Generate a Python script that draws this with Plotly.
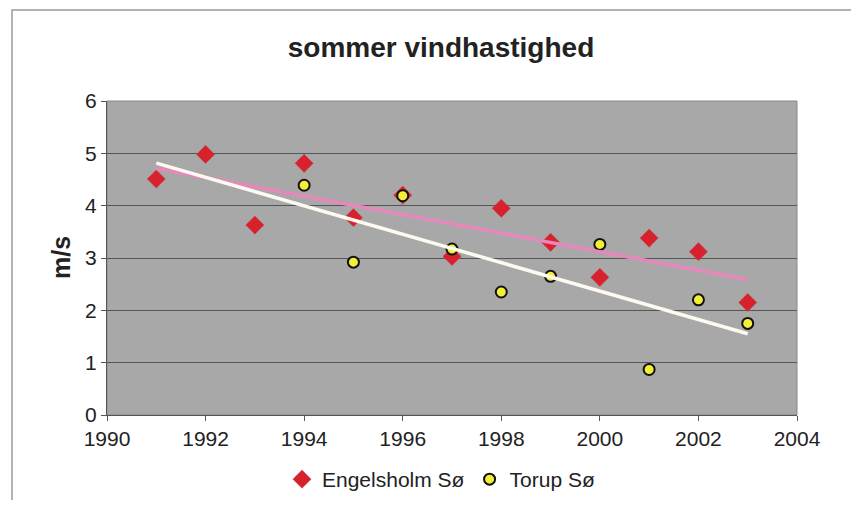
import numpy as np
import plotly.graph_objects as go

# data
years_eng = [1991, 1992, 1993, 1994, 1995, 1996, 1997, 1998, 1999, 2000, 2001, 2002, 2003]
engelsholm = [4.51, 4.98, 3.63, 4.81, 3.77, 4.20, 3.03, 3.95, 3.30, 2.63, 3.38, 3.12, 2.15]

years_tor = [1994, 1995, 1996, 1997, 1998, 1999, 2000, 2001, 2002, 2003]
torup = [4.39, 2.92, 4.19, 3.17, 2.35, 2.65, 3.26, 0.87, 2.20, 1.75]

x_ticks = [1990, 1992, 1994, 1996, 1998, 2000, 2002, 2004]
y_ticks = [0, 1, 2, 3, 4, 5, 6]

# linear trendlines (torup one is forecast back to 1991, like excel does)
p_eng = np.polyfit(years_eng, engelsholm, 1)
p_tor = np.polyfit(years_tor, torup, 1)
trend_x = [1991, 2003]

# page body has an 8px margin, so the figure is a bit smaller than the window
PAD = 8
W, H = 859 - 2 * PAD, 508 - 2 * PAD
L, T = 107 - PAD, 101 - PAD
R, B = W - (797 - PAD), H - (415 - PAD)
pw, ph = W - L - R, H - T - B

# reference pixel -> paper coords
def px(x):
    return (x - PAD - L) / pw

def py(y):
    return (H - B - (y - PAD)) / ph

FONT = 'Liberation Sans, Arial'

fig = go.Figure()

fig.add_trace(go.Scatter(
    x=years_eng, y=engelsholm, mode='markers', name='Engelsholm Sø',
    marker=dict(symbol='diamond', size=14, color='#d7222e',
                line=dict(color='#c0464a', width=0.5))))

fig.add_trace(go.Scatter(
    x=years_tor, y=torup, mode='markers', name='Torup Sø',
    marker=dict(symbol='circle', size=11, color='#f3ee36',
                line=dict(color='#111111', width=2))))

fig.add_trace(go.Scatter(
    x=trend_x, y=np.polyval(p_eng, trend_x), mode='lines', showlegend=False,
    line=dict(color='#e887bb', width=3.5), hoverinfo='skip'))

fig.add_trace(go.Scatter(
    x=trend_x, y=np.polyval(p_tor, trend_x), mode='lines', showlegend=False,
    line=dict(color='#fffaf0', width=3.5), hoverinfo='skip'))

axis_font = dict(family=FONT, size=21, color='#222222')

fig.update_xaxes(
    range=[1990, 2004], tickvals=x_ticks, ticks='outside', ticklen=5,
    tickcolor='#555555', showgrid=False, zeroline=False,
    showline=True, linecolor='#555555', linewidth=1,
    tickfont=axis_font)
fig.update_yaxes(
    range=[0, 6], tickvals=y_ticks, ticks='outside', ticklen=5,
    tickcolor='#555555', showgrid=True, gridcolor='#555555', gridwidth=1,
    zeroline=False, showline=True, linecolor='#555555', linewidth=1,
    tickfont=axis_font)

# outer chart frame and the plot area border
fig.add_shape(type='rect', xref='paper', yref='paper',
              x0=px(12), x1=px(856), y0=py(530), y1=py(10),
              line=dict(color='#9a9a9a', width=1.5), layer='below')
fig.add_shape(type='rect', xref='paper', yref='paper',
              x0=0, x1=1, y0=0, y1=1,
              line=dict(color='#8a8a8a', width=1), layer='below')

fig.add_annotation(text='<b>m/s</b>', xref='paper', yref='paper',
                   x=px(45), y=0.5, textangle=-90, showarrow=False,
                   font=dict(family=FONT, size=25, color='#222222'))

fig.update_layout(
    width=W, height=H,
    margin=dict(l=L, r=R, t=T, b=B, autoexpand=False),
    paper_bgcolor='white',
    plot_bgcolor='#a8a8a8',
    title=dict(text='<b>sommer vindhastighed</b>', x=px(441), xref='paper', xanchor='center',
               y=1 - (47 - PAD) / H, yanchor='middle',
               font=dict(family=FONT, size=28, color='#222222')),
    legend=dict(orientation='h', x=px(441), xanchor='center', y=-B / ph, yanchor='bottom',
                font=dict(family=FONT, size=21, color='#222222'),
                itemwidth=30, tracegroupgap=0, borderwidth=0,
                bgcolor='rgba(0,0,0,0)'),
    showlegend=True,
)

fig.write_html('out.html')
